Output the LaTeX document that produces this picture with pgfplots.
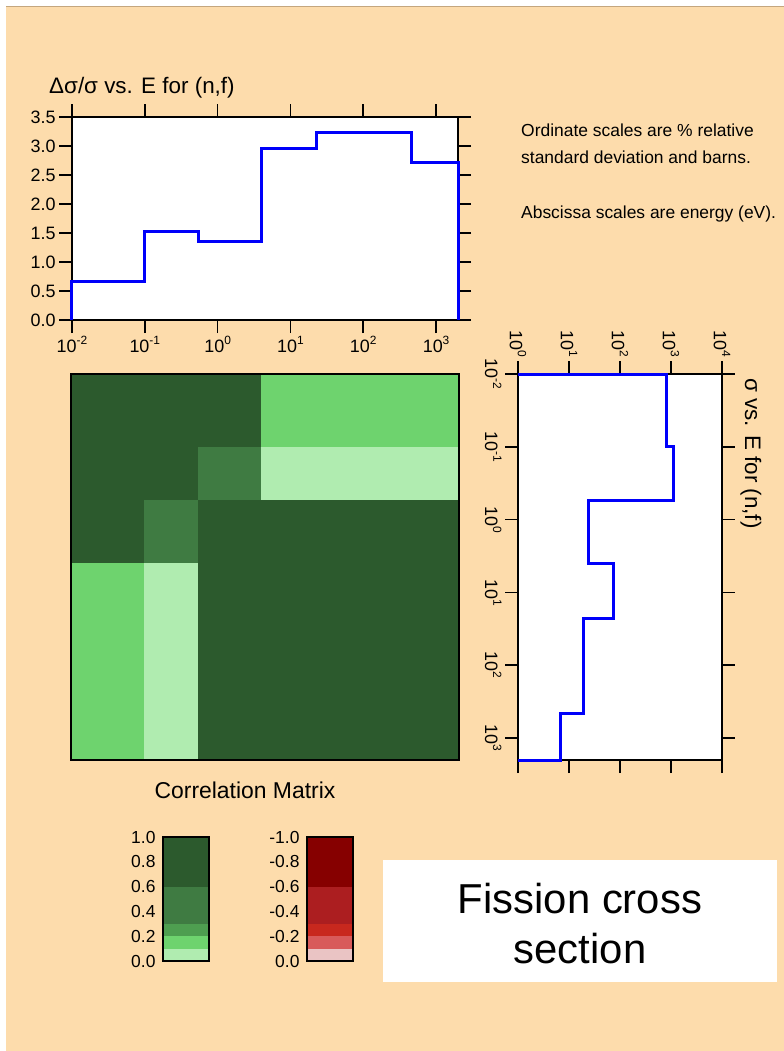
\documentclass[border=0pt]{standalone}
\usepackage{fontspec}
\setmainfont{Liberation Sans}
\usepackage{pgfplots}
\usepackage{pgfplotstable}
\pgfplotsset{compat=1.18}

\definecolor{bg}{HTML}{FDDCAC}
\definecolor{rule}{HTML}{C4A67E}
\definecolor{lineblue}{rgb}{0,0,0.98}
% correlation shades, positive
\definecolor{g0}{HTML}{B0ECB0}
\definecolor{g1}{HTML}{6ED36E}
\definecolor{g2}{HTML}{4E9E50}
\definecolor{g3}{HTML}{3F7B42}
\definecolor{g4}{HTML}{2C5A2D}
% correlation shades, negative
\definecolor{r0}{HTML}{EAC4C4}
\definecolor{r1}{HTML}{D85A5A}
\definecolor{r2}{HTML}{C8281E}
\definecolor{r3}{HTML}{AC1E20}
\definecolor{r4}{HTML}{860000}

% relative standard deviation (%) per energy group, lower group bound in eV
\pgfplotstableread{
E     rsd
0.01  0
0.01  0.66
0.1   1.52
0.54  1.36
4.0   2.96
22.6  3.24
460   2.72
2000  2.72
2000  0
}\rsdtab

% group cross section (barns): outline corners
\pgfplotstableread{
sig   E
1     0.01
813   0.01
813   0.1
1100  0.1
1100  0.54
24.3  0.54
24.3  4.0
76    4.0
76    22.6
19.5  22.6
19.5  460
6.8   460
6.8   2000
1     2000
}\sigtab

% correlation matrix on the group boundaries (row energy Er, column energy Ec)
\pgfplotstableread{
Er    Ec    r
0.01  0.01  1
0.01  0.1   0.9
0.01  0.54  0.8
0.01  4.0   0.15
0.01  22.6  0.15
0.01  460   0.15
0.01  2000  0.15
0.1   0.01  0.9
0.1   0.1   1
0.1   0.54  0.45
0.1   4.0   0.05
0.1   22.6  0.05
0.1   460   0.05
0.1   2000  0.05
0.54  0.01  0.8
0.54  0.1   0.45
0.54  0.54  1
0.54  4.0   0.9
0.54  22.6  0.9
0.54  460   0.9
0.54  2000  0.9
4.0   0.01  0.15
4.0   0.1   0.05
4.0   0.54  0.9
4.0   4.0   1
4.0   22.6  0.9
4.0   460   0.9
4.0   2000  0.9
22.6  0.01  0.15
22.6  0.1   0.05
22.6  0.54  0.9
22.6  4.0   0.9
22.6  22.6  1
22.6  460   0.9
22.6  2000  0.9
460   0.01  0.15
460   0.1   0.05
460   0.54  0.9
460   4.0   0.9
460   22.6  0.9
460   460   1
460   2000  1
2000  0.01  0.15
2000  0.1   0.05
2000  0.54  0.9
2000  4.0   0.9
2000  22.6  0.9
2000  460   1
2000  2000  1
}\corrtab

\newcommand{\pw}[1]{10\raisebox{0.45em}{\fontsize{12}{12}\selectfont #1}}

\pgfplotsset{
  panel/.style={
    scale only axis, clip=false,
    axis background/.style={fill=white},
    axis line style={line width=2.4bp},
    tick align=outside, major tick length=13bp,
    major tick style={black, line width=1.6bp},
    xminorticks=false, yminorticks=false,
    tick label style={font=\fontsize{18}{20}\selectfont},
    /pgf/number format/assume math mode=true,
  },
  cbar/.style={
    scale only axis, axis on top,
    width=46bp, height=124bp,
    ybar stacked, bar width=46bp,
    xmin=-0.5, xmax=0.5, xtick=\empty,
    major tick length=0pt,
    axis line style={line width=1.2bp},
    tick label style={font=\fontsize{17.5}{19}\selectfont},
    /pgf/number format/assume math mode=true,
    yticklabel style={xshift=-4bp, /pgf/number format/.cd, fixed, fixed zerofill, precision=1},
  },
}

\begin{document}
\begin{tikzpicture}[x=1bp, y=-1bp]
\path[use as bounding box] (0,0) rectangle (784,1051);
\fill[white] (0,0) rectangle (784,1051);
\fill[bg] (6,7) rectangle (784,1051);
\draw[rule, line width=1.2bp] (6,6.6) -- (784,6.6);

% uncertainty vs energy
\begin{axis}[panel, at={(72bp,-117bp)}, anchor=north west,
  width=386bp, height=203bp,
  xmode=log, xmin=0.01, xmax=2000, ymin=0, ymax=3.5,
  xtick={0.01,0.1,1,10,100,1000},
  xticklabels={\pw{-2},\pw{-1},\pw{0},\pw{1},\pw{2},\pw{3}},
  ytick={0,0.5,1,1.5,2,2.5,3,3.5},
  yticklabel style={/pgf/number format/.cd, fixed, fixed zerofill, precision=1}]
\addplot[const plot, line width=3bp, color=lineblue] table[x=E, y=rsd] {\rsdtab};
\end{axis}

% cross section vs energy, energy running downwards
\begin{axis}[panel, at={(518bp,-374bp)}, anchor=north west,
  width=204bp, height=386bp,
  xmode=log, ymode=log, xmin=1, xmax=10000, ymin=0.01, ymax=2000,
  y dir=reverse,
  xtick={1,10,100,1000,10000},
  xticklabels={\pw{0},\pw{1},\pw{2},\pw{3},\pw{4}},
  xticklabel pos=right,
  ytick={0.01,0.1,1,10,100,1000},
  yticklabels={\pw{-2},\pw{-1},\pw{0},\pw{1},\pw{2},\pw{3}},
  yticklabel pos=left,
  xticklabel style={rotate=-90, anchor=east},
  yticklabel style={rotate=-90, anchor=north}]
\addplot[line width=3bp, color=lineblue] table[x=sig, y=E] {\sigtab};
\end{axis}

% correlation matrix
\begin{axis}[at={(71bp,-374bp)}, anchor=north west, scale only axis,
  width=388bp, height=386bp, axis on top,
  xmode=log, ymode=log, xmin=0.01, xmax=2000, ymin=0.01, ymax=2000,
  y dir=reverse, ticks=none,
  axis line style={line width=1.5bp},
  colormap={corr}{rgb255(0)=(176,236,176) rgb255(0.1)=(110,211,110)
    rgb255(0.2)=(78,158,80) rgb255(0.3)=(63,123,66)
    rgb255(0.6)=(44,90,45) rgb255(1)=(44,90,45)},
  colormap access=piecewise constant,
  point meta min=0, point meta max=1]
\addplot[surf, shader=flat corner, mesh/cols=7, point meta=explicit]
  table[x=Ec, y=Er, meta=r] {\corrtab};
\end{axis}

% colour keys
\begin{axis}[cbar, at={(163bp,-837bp)}, anchor=north west,
  ymin=0, ymax=1, ytick={0,0.2,0.4,0.6,0.8,1}]
\addplot[fill=g0, draw=none] coordinates {(0,0.1)};
\addplot[fill=g1, draw=none] coordinates {(0,0.1)};
\addplot[fill=g2, draw=none] coordinates {(0,0.1)};
\addplot[fill=g3, draw=none] coordinates {(0,0.3)};
\addplot[fill=g4, draw=none] coordinates {(0,0.4)};
\end{axis}

\begin{axis}[cbar, at={(307bp,-837bp)}, anchor=north west,
  ymin=-1, ymax=0, y dir=reverse, ytick={-1,-0.8,-0.6,-0.4,-0.2,0}]
\addplot[fill=r0, draw=none] coordinates {(0,-0.1)};
\addplot[fill=r1, draw=none] coordinates {(0,-0.1)};
\addplot[fill=r2, draw=none] coordinates {(0,-0.1)};
\addplot[fill=r3, draw=none] coordinates {(0,-0.3)};
\addplot[fill=r4, draw=none] coordinates {(0,-0.4)};
\end{axis}

% texts
\node[anchor=base west, inner sep=0pt, font=\fontsize{22.5}{24}\selectfont] at (49,93) {Δσ/σ vs. E for (n,f)};
\begin{scope}[every node/.style={anchor=base west, font=\fontsize{17.5}{20}\selectfont, inner sep=0pt}]
\node at (521,136) {Ordinate scales are \% relative};
\node at (521,163) {standard deviation and barns.};
\node at (521,218) {Abscissa scales are energy (eV).};
\end{scope}
\node[rotate=-90, anchor=base west, inner sep=0pt, font=\fontsize{22.5}{24}\selectfont] at (745,378) {σ vs. E for (n,f)};
\node[anchor=base, font=\fontsize{23}{25}\selectfont] at (245,798) {Correlation Matrix};

\fill[white] (383,860) rectangle (777,982);
\node[anchor=base, font=\fontsize{42}{48}\selectfont] at (580,913) {Fission cross};
\node[anchor=base, font=\fontsize{42}{48}\selectfont] at (580,963) {section};
\end{tikzpicture}
\end{document}
